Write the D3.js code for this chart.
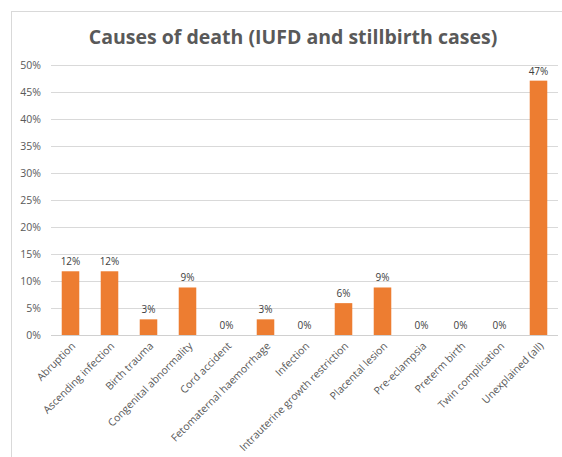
<!DOCTYPE html>
<html>
<head>
<meta charset="utf-8">
<script src="https://cdn.jsdelivr.net/npm/d3@7"></script>
<style>
  body { margin: 0; background: #fff; }
  svg { display: block; font-family: "Open Sans", "Noto Sans", sans-serif; }
</style>
</head>
<body>
<div id="chart"></div>
<script>
// Chart data
const causes = ["Abruption", "Ascending infection", "Birth trauma", "Congenital abnormality",
  "Cord accident", "Fetomaternal haemorrhage", "Infection", "Intrauterine growth restriction",
  "Placental lesion", "Pre-eclampsia", "Preterm birth", "Twin complication", "Unexplained (all)"];
const shares = [11.8, 11.8, 2.9, 8.8, 0, 2.9, 0, 5.9, 8.8, 0, 0, 0, 47.1];
const yTicks = [0, 5, 10, 15, 20, 25, 30, 35, 40, 45, 50];

const width = 562, height = 457;
const margin = { top: 65, right: 4, bottom: 122, left: 51 };

const svg = d3.select("#chart").append("svg")
    .attr("width", width)
    .attr("height", height);

// chart area border
svg.append("rect")
    .attr("x", 11.5).attr("y", 11.5)
    .attr("width", 560).attr("height", 460)
    .attr("fill", "none")
    .attr("stroke", "#d9d9d9");

svg.append("text")
    .attr("x", 293).attr("y", 44)
    .attr("text-anchor", "middle")
    .attr("fill", "#595959")
    .attr("font-size", 19.5)
    .attr("font-weight", "bold")
    .text("Causes of death (IUFD and stillbirth cases)");

const x = d3.scaleBand()
    .domain(causes)
    .range([margin.left, width - margin.right])
    .paddingInner(0.55)
    .paddingOuter(0.275);

const y = d3.scaleLinear()
    .domain([0, 50])
    .range([height - margin.bottom, margin.top]);

// gridlines
svg.append("g").selectAll("line")
    .data(yTicks.filter(d => d > 0))
    .enter().append("line")
    .attr("x1", margin.left).attr("x2", width - margin.right)
    .attr("y1", d => Math.round(y(d)) + 0.5)
    .attr("y2", d => Math.round(y(d)) + 0.5)
    .attr("stroke", "#d9d9d9");

// y axis labels
const yAxis = svg.append("g")
    .attr("transform", `translate(${margin.left},0)`)
    .call(d3.axisLeft(y).tickValues(yTicks).tickFormat(d => d + "%").tickSize(0).tickPadding(10));
yAxis.select(".domain").remove();
yAxis.selectAll("text")
    .attr("fill", "#595959")
    .attr("font-size", 10.5)
    .attr("font-family", "Open Sans, sans-serif");

// bars
svg.append("g").selectAll("rect")
    .data(shares)
    .enter().append("rect")
    .attr("x", (d, i) => x(causes[i]))
    .attr("y", d => y(d))
    .attr("width", x.bandwidth())
    .attr("height", d => y(0) - y(d))
    .attr("fill", "#ed7d31");

// baseline
svg.append("line")
    .attr("x1", margin.left).attr("x2", width - margin.right)
    .attr("y1", Math.round(y(0)) + 0.5).attr("y2", Math.round(y(0)) + 0.5)
    .attr("stroke", "#d0d0d0");

// value labels
svg.append("g").selectAll("text")
    .data(shares)
    .enter().append("text")
    .attr("x", (d, i) => x(causes[i]) + x.bandwidth() / 2)
    .attr("y", d => y(d) - 6)
    .attr("text-anchor", "middle")
    .attr("fill", "#404040")
    .attr("font-size", 10)
    .text(d => Math.round(d) + "%");

// category labels
svg.append("g").selectAll("text")
    .data(causes)
    .enter().append("text")
    .attr("transform", d => `translate(${x(d) + x.bandwidth() / 2 + 3},${y(0) + 9}) rotate(-45)`)
    .attr("text-anchor", "end")
    .attr("dy", "0.35em")
    .attr("fill", "#595959")
    .attr("font-size", 10.5)
    .text(d => d);
</script>
</body>
</html>
